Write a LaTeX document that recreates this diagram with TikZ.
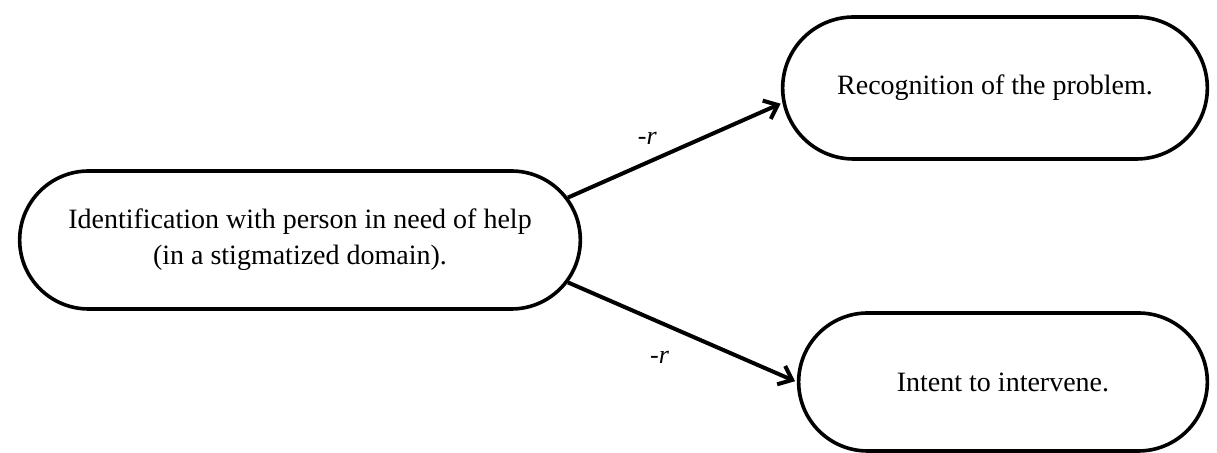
\documentclass[tikz,border=0pt]{standalone}
\usepackage{fontspec}
\setmainfont{Liberation Serif}
\usetikzlibrary{shapes.misc,arrows.meta}

\begin{document}
\begin{tikzpicture}[x=0.5pt,y=-0.5pt,>={Straight Barb[length=6pt,width=10pt]},shorten >=1pt,line width=1.8pt,main node/.style={rounded rectangle,draw,align=center,font=\fontsize{14}{18}\selectfont}]

            \useasboundingbox (0,0) rectangle (1217,453);

            \node[main node, minimum width=287pt, minimum height=69pt] (1) at (300,240) {Identification with person in need of help\\(in a stigmatized domain).};
            \node[main node, minimum width=219pt, minimum height=71pt] (2) at (995,88) {Recognition of the problem.};
            \node[main node, minimum width=211pt, minimum height=69pt] (3) at (1003,382) {Intent to intervene.};

            \draw[->, line width=2pt] (1.9) to node[pos=0.37, above=4.5pt, font=\fontsize{13}{15}\selectfont]{\textit{-r}} (2.184);
            \draw[->, line width=2pt] (1.-9) to node[pos=0.4, below=10pt, font=\fontsize{13}{15}\selectfont]{\textit{-r}} (3.west);

            ;
        \end{tikzpicture}
\end{document}
